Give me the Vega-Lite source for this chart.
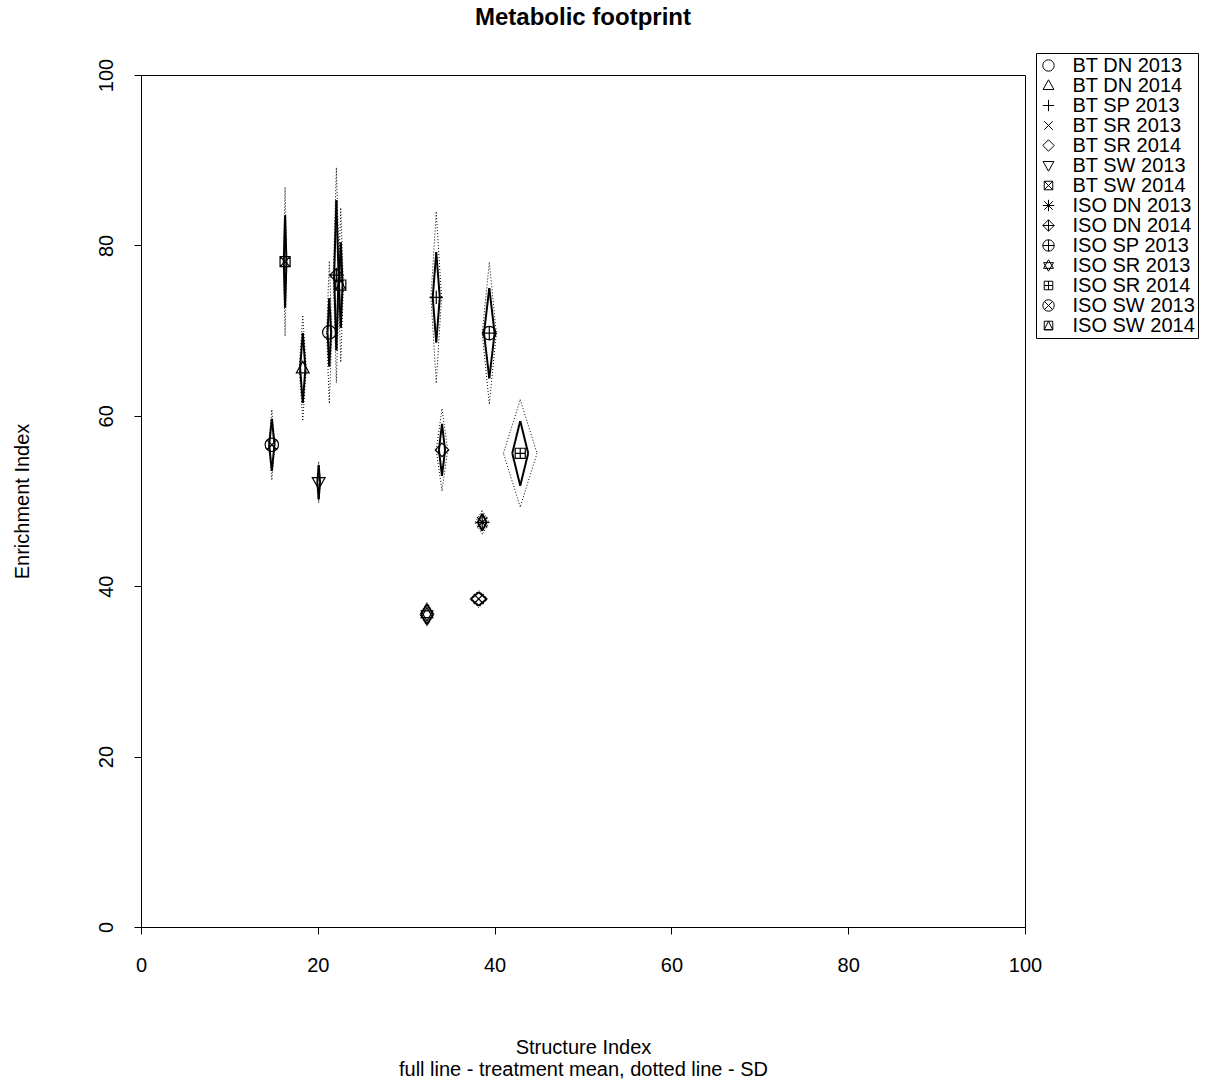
{
  "$schema": "https://vega.github.io/schema/vega-lite/v6.json",
  "width": 884,
  "height": 852,
  "autosize": {"type": "none"},
  "padding": {"left": 141, "top": 75, "right": 183, "bottom": 159},
  "background": "white",
  "title": {"text": "Metabolic footprint", "anchor": "middle", "frame": "group", "font": "Liberation Sans", "fontSize": 24, "fontWeight": "bold", "color": "black", "offset": 23},
  "config": {
    "view": {"stroke": "black", "strokeWidth": 1},
    "font": "Liberation Sans",
    "axis": {"grid": false, "domainColor": "black", "tickColor": "black", "labelColor": "black", "titleColor": "black", "labelFont": "Liberation Sans", "titleFont": "Liberation Sans", "labelFontSize": 20, "titleFontSize": 20, "titleFontWeight": "normal", "tickSize": 7, "domainWidth": 1, "tickWidth": 1, "labelFlush": false, "labelOverlap": false}
  },
  "datasets": {
    "pts": [
      {"group": "BT DN 2013", "x": 21.3, "y": 69.8},
      {"group": "BT DN 2014", "x": 18.3, "y": 65.6},
      {"group": "BT SP 2013", "x": 33.4, "y": 73.9},
      {"group": "BT SR 2013", "x": 38.2, "y": 38.5},
      {"group": "BT SR 2014", "x": 34.05, "y": 56.0},
      {"group": "BT SW 2013", "x": 20.1, "y": 52.2},
      {"group": "BT SW 2014", "x": 16.3, "y": 78.1},
      {"group": "ISO DN 2013", "x": 38.6, "y": 47.5},
      {"group": "ISO DN 2014", "x": 22.1, "y": 76.5},
      {"group": "ISO SP 2013", "x": 39.4, "y": 69.7},
      {"group": "ISO SR 2013", "x": 32.35, "y": 36.7},
      {"group": "ISO SR 2014", "x": 42.9, "y": 55.6},
      {"group": "ISO SW 2013", "x": 14.8, "y": 56.6},
      {"group": "ISO SW 2014", "x": 22.6, "y": 75.35}
    ],
    "dia": [
      {"group": "BT SW 2014", "type": "mean", "x": 16.3, "y": 78.1, "xlo": 16.15, "xhi": 16.45, "ylo": 72.7, "yhi": 83.5},
      {"group": "BT SW 2014", "type": "sd", "x": 16.3, "y": 78.1, "xlo": 16.1, "xhi": 16.5, "ylo": 69.4, "yhi": 86.8},
      {"group": "ISO DN 2014", "type": "mean", "x": 22.1, "y": 76.5, "xlo": 21.85, "xhi": 22.35, "ylo": 67.7, "yhi": 85.3},
      {"group": "ISO DN 2014", "type": "sd", "x": 22.1, "y": 76.5, "xlo": 21.75, "xhi": 22.45, "ylo": 63.9, "yhi": 89.1},
      {"group": "ISO SW 2014", "type": "mean", "x": 22.6, "y": 75.35, "xlo": 22.4, "xhi": 22.8, "ylo": 70.35, "yhi": 80.35},
      {"group": "ISO SW 2014", "type": "sd", "x": 22.6, "y": 75.35, "xlo": 22.3, "xhi": 22.9, "ylo": 66.35, "yhi": 84.35},
      {"group": "BT DN 2013", "type": "mean", "x": 21.3, "y": 69.8, "xlo": 21.1, "xhi": 21.5, "ylo": 65.8, "yhi": 73.8},
      {"group": "BT DN 2013", "type": "sd", "x": 21.3, "y": 69.8, "xlo": 21.0, "xhi": 21.6, "ylo": 61.5, "yhi": 78.1},
      {"group": "BT DN 2014", "type": "mean", "x": 18.3, "y": 65.6, "xlo": 18.0, "xhi": 18.6, "ylo": 61.5, "yhi": 69.7},
      {"group": "BT DN 2014", "type": "sd", "x": 18.3, "y": 65.6, "xlo": 17.9, "xhi": 18.7, "ylo": 59.5, "yhi": 71.7},
      {"group": "BT SP 2013", "type": "mean", "x": 33.4, "y": 73.9, "xlo": 33.0, "xhi": 33.8, "ylo": 68.6, "yhi": 79.2},
      {"group": "BT SP 2013", "type": "sd", "x": 33.4, "y": 73.9, "xlo": 32.8, "xhi": 34.0, "ylo": 63.9, "yhi": 83.9},
      {"group": "ISO SP 2013", "type": "mean", "x": 39.4, "y": 69.7, "xlo": 38.8, "xhi": 40.0, "ylo": 64.4, "yhi": 75.0},
      {"group": "ISO SP 2013", "type": "sd", "x": 39.4, "y": 69.7, "xlo": 38.6, "xhi": 40.2, "ylo": 61.4, "yhi": 78.0},
      {"group": "BT SR 2014", "type": "mean", "x": 34.05, "y": 56.0, "xlo": 33.7, "xhi": 34.4, "ylo": 52.95, "yhi": 59.05},
      {"group": "BT SR 2014", "type": "sd", "x": 34.05, "y": 56.0, "xlo": 33.4, "xhi": 34.7, "ylo": 51.2, "yhi": 60.8},
      {"group": "ISO SR 2014", "type": "mean", "x": 42.9, "y": 55.6, "xlo": 42.0, "xhi": 43.8, "ylo": 51.8, "yhi": 59.4},
      {"group": "ISO SR 2014", "type": "sd", "x": 42.9, "y": 55.6, "xlo": 41.0, "xhi": 44.8, "ylo": 49.3, "yhi": 61.9},
      {"group": "ISO SW 2013", "type": "mean", "x": 14.8, "y": 56.6, "xlo": 14.5, "xhi": 15.1, "ylo": 53.55, "yhi": 59.65},
      {"group": "ISO SW 2013", "type": "sd", "x": 14.8, "y": 56.6, "xlo": 14.45, "xhi": 15.15, "ylo": 52.5, "yhi": 60.7},
      {"group": "BT SW 2013", "type": "mean", "x": 20.1, "y": 52.2, "xlo": 19.95, "xhi": 20.25, "ylo": 50.2, "yhi": 54.2},
      {"group": "BT SW 2013", "type": "sd", "x": 20.1, "y": 52.2, "xlo": 19.9, "xhi": 20.3, "ylo": 49.8, "yhi": 54.6},
      {"group": "ISO DN 2013", "type": "mean", "x": 38.6, "y": 47.5, "xlo": 38.1, "xhi": 39.1, "ylo": 46.5, "yhi": 48.5},
      {"group": "ISO DN 2013", "type": "sd", "x": 38.6, "y": 47.5, "xlo": 37.8, "xhi": 39.4, "ylo": 46.1, "yhi": 48.9},
      {"group": "BT SR 2013", "type": "mean", "x": 38.2, "y": 38.5, "xlo": 37.3, "xhi": 39.1, "ylo": 37.7, "yhi": 39.3},
      {"group": "BT SR 2013", "type": "sd", "x": 38.2, "y": 38.5, "xlo": 37.2, "xhi": 39.2, "ylo": 37.5, "yhi": 39.5},
      {"group": "ISO SR 2013", "type": "mean", "x": 32.35, "y": 36.7, "xlo": 31.65, "xhi": 33.05, "ylo": 35.5, "yhi": 37.9},
      {"group": "ISO SR 2013", "type": "sd", "x": 32.35, "y": 36.7, "xlo": 31.55, "xhi": 33.15, "ylo": 35.3, "yhi": 38.1}
    ]
  },
  "layer": [
    {
      "data": {"name": "pts"},
      "mark": {"type": "point", "filled": false, "color": "black", "strokeWidth": 1.2, "size": 180, "opacity": 1},
      "encoding": {
        "x": {"field": "x", "type": "quantitative", "scale": {"domain": [0, 100], "nice": false, "zero": false},
          "axis": {"values": [0, 20, 40, 60, 80, 100], "labelPadding": 21, "title": ["Structure Index", "full line - treatment mean, dotted line - SD"], "titlePadding": 62, "titleLineHeight": 22}},
        "y": {"field": "y", "type": "quantitative", "scale": {"domain": [0, 100], "nice": false, "zero": false},
          "axis": {"values": [0, 20, 40, 60, 80, 100], "labelAngle": -90, "labelAlign": "center", "labelBaseline": "bottom", "labelPadding": 18, "title": "Enrichment Index", "titlePadding": 64}},
        "shape": {"field": "group", "type": "nominal",
          "scale": {"domain": ["BT DN 2013", "BT DN 2014", "BT SP 2013", "BT SR 2013", "BT SR 2014", "BT SW 2013", "BT SW 2014", "ISO DN 2013", "ISO DN 2014", "ISO SP 2013", "ISO SR 2013", "ISO SR 2014", "ISO SW 2013", "ISO SW 2014"],
            "range": [
              "M1,0A1,1,0,1,1,-1,0A1,1,0,1,1,1,0Z",
              "M0,-1L0.95,0.7L-0.95,0.7Z",
              "M-1,0H1M0,-1V1",
              "M-0.75,-0.75L0.75,0.75M-0.75,0.75L0.75,-0.75",
              "M0,-1L1,0L0,1L-1,0Z",
              "M0,1L0.95,-0.7L-0.95,-0.7Z",
              "M-0.75,-0.75H0.75V0.75H-0.75ZM-0.75,-0.75L0.75,0.75M-0.75,0.75L0.75,-0.75",
              "M-1,0H1M0,-1V1M-0.75,-0.75L0.75,0.75M-0.75,0.75L0.75,-0.75",
              "M0,-1L1,0L0,1L-1,0ZM-1,0H1M0,-1V1",
              "M1,0A1,1,0,1,1,-1,0A1,1,0,1,1,1,0ZM-1,0H1M0,-1V1",
              "M0,-1L0.87,0.5L-0.87,0.5ZM0,1L0.87,-0.5L-0.87,-0.5Z",
              "M-0.75,-0.75H0.75V0.75H-0.75ZM-0.75,0H0.75M0,-0.75V0.75",
              "M1,0A1,1,0,1,1,-1,0A1,1,0,1,1,1,0ZM-0.7,-0.7L0.7,0.7M-0.7,0.7L0.7,-0.7",
              "M-0.75,-0.75H0.75V0.75H-0.75ZM0,-0.75L0.75,0.75H-0.75Z"
            ]},
          "legend": {"title": null, "orient": "none", "legendX": 895, "legendY": -22, "labelFont": "Liberation Sans", "labelFontSize": 20, "labelColor": "black", "symbolSize": 130, "symbolStrokeColor": "black", "symbolStrokeWidth": 1, "symbolFillColor": "transparent", "symbolType": "circle", "strokeColor": "black", "padding": 2.5, "rowPadding": -3.3, "labelOffset": 14, "labelLimit": 300}}
      }
    },
    {
      "data": {"name": "dia"},
      "mark": {"type": "rule", "color": "black"},
      "encoding": {
        "x": {"field": "xlo", "type": "quantitative"}, "y": {"field": "y", "type": "quantitative"},
        "x2": {"field": "x"}, "y2": {"field": "yhi"},
        "strokeDash": {"field": "type", "type": "nominal", "scale": {"domain": ["mean", "sd"], "range": [[1, 0], [1, 2]]}, "legend": null},
        "strokeWidth": {"field": "type", "type": "ordinal", "scale": {"domain": ["mean", "sd"], "range": [2, 1]}, "legend": null},
        "detail": {"field": "group"}
      }
    },
    {
      "data": {"name": "dia"},
      "mark": {"type": "rule", "color": "black"},
      "encoding": {
        "x": {"field": "x", "type": "quantitative"}, "y": {"field": "yhi", "type": "quantitative"},
        "x2": {"field": "xhi"}, "y2": {"field": "y"},
        "strokeDash": {"field": "type", "type": "nominal", "legend": null},
        "strokeWidth": {"field": "type", "type": "ordinal", "legend": null},
        "detail": {"field": "group"}
      }
    },
    {
      "data": {"name": "dia"},
      "mark": {"type": "rule", "color": "black"},
      "encoding": {
        "x": {"field": "xhi", "type": "quantitative"}, "y": {"field": "y", "type": "quantitative"},
        "x2": {"field": "x"}, "y2": {"field": "ylo"},
        "strokeDash": {"field": "type", "type": "nominal", "legend": null},
        "strokeWidth": {"field": "type", "type": "ordinal", "legend": null},
        "detail": {"field": "group"}
      }
    },
    {
      "data": {"name": "dia"},
      "mark": {"type": "rule", "color": "black"},
      "encoding": {
        "x": {"field": "x", "type": "quantitative"}, "y": {"field": "ylo", "type": "quantitative"},
        "x2": {"field": "xlo"}, "y2": {"field": "y"},
        "strokeDash": {"field": "type", "type": "nominal", "legend": null},
        "strokeWidth": {"field": "type", "type": "ordinal", "legend": null},
        "detail": {"field": "group"}
      }
    },
    {
      "mark": {"type": "rule", "color": "black", "strokeWidth": 1},
      "encoding": {"x": {"datum": 50, "type": "quantitative"}}
    },
    {
      "mark": {"type": "rule", "color": "black", "strokeWidth": 1},
      "encoding": {"y": {"datum": 50, "type": "quantitative"}}
    }
  ]
}
